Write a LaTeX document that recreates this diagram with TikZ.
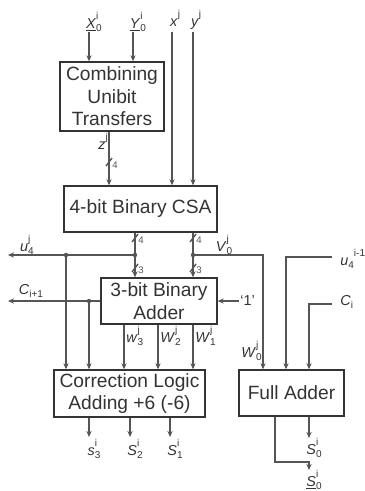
\documentclass[tikz,border=0pt]{standalone}
\usepackage{fontspec}
\setmainfont{Liberation Sans}
\usetikzlibrary{arrows.meta}
\definecolor{ln}{HTML}{555555}
\definecolor{tx}{HTML}{333333}
\newcommand\ssz{\fontsize{5}{5.5}\selectfont}
\newcommand\lbl[3]{\textit{#1}\makebox[0pt][l]{\raisebox{1.15ex}{\ssz #2}}\raisebox{-0.45ex}{\ssz #3}}
\newcommand\ul[1]{\setbox0\hbox{\textit{#1}}\rlap{\rule[-1.3pt]{\wd0}{0.6pt}}\box0}
\begin{document}
\begin{tikzpicture}[x=0.5pt,y=-0.5pt,
  box/.style={draw=tx, line width=0.7pt, inner sep=0pt, align=center, font=\fontsize{9.6}{11.3}\selectfont, text=tx},
  wire/.style={draw=ln, line width=0.7pt},
  arr/.style={wire, -{Stealth[length=3pt,width=2.6pt]}},
  lab/.style={inner sep=0pt, text=tx, font=\fontsize{7.2}{8}\selectfont},
  dig/.style={inner sep=0pt, text=ln, font=\fontsize{4.8}{5}\selectfont},
  dot/.style={circle, fill=ln, inner sep=0pt, minimum size=2.2pt},
  ]
\useasboundingbox (0,0) rectangle (364,491);

% boxes
\node[box, minimum width=52pt, minimum height=34.5pt] (comb) at (112,96.5) {Combining\\Unibit\\Transfers};
\node[box, minimum width=76.5pt, minimum height=23pt] (csa) at (140.5,209) {4-bit Binary CSA};
\node[box, minimum width=58pt, minimum height=23pt] (add3) at (159,301) {3-bit Binary\\Adder};
\node[box, minimum width=75.5pt, minimum height=23.5pt] (corr) at (129.5,393.5) {Correction Logic\\Adding +6 (-6)};
\node[box, minimum width=52.5pt, minimum height=23pt] (fa) at (291.5,393) {Full Adder};

% top inputs
\node[lab] (Xl) at (94,22) {\ul{X}\makebox[0pt][l]{\raisebox{1.15ex}{\ssz i}}\raisebox{-0.45ex}{\ssz 0}};
\node[lab] (Yl) at (138,22) {\ul{Y}\makebox[0pt][l]{\raisebox{1.15ex}{\ssz i}}\raisebox{-0.45ex}{\ssz 0}};
\node[lab] (xl) at (174,20) {\lbl{x}{j}{}};
\node[lab] (yl) at (195,20) {\lbl{y}{j}{}};
\coordinate (Xt) at (89,32);
\coordinate (Yt) at (133,32);
\coordinate (xt) at (172,32);
\coordinate (yt) at (193,32);
\draw[arr] (Xt) -- (Xt |- comb.north);
\draw[arr] (Yt) -- (Yt |- comb.north);
\draw[arr] (xt) -- (xt |- csa.north);
\draw[arr] (yt) -- (yt |- csa.north);

% z
\coordinate (zt) at (109,162);
\draw[arr] (comb.south -| zt) -- (zt |- csa.north);
\node[lab] (zl) at (102,143) {\lbl{z}{j}{}};
\draw[wire] ([shift={(-3,4)}]zt) -- ([shift={(3,-4)}]zt);
\node[dig] at ([shift={(6,3)}]zt) {4};

% CSA outputs
\coordinate (ua) at (135,255);
\coordinate (va) at (193,255);
\draw[arr] (ua |- csa.south) -- (ua |- add3.north);
\draw[arr] (va |- csa.south) -- (va |- add3.north);
\foreach \c in {ua,va} {
  \coordinate (s4) at ([shift={(0,-17)}]\c);
  \draw[wire] ([shift={(-3,4)}]s4) -- ([shift={(3,-4)}]s4);
  \node[dig] at ([shift={(6,2)}]s4) {4};
  \coordinate (s3) at ([shift={(0,13)}]\c);
  \draw[wire] ([shift={(-3,4)}]s3) -- ([shift={(3,-4)}]s3);
  \node[dig] at ([shift={(6,2)}]s3) {3};
}
\node[dot] (du) at (ua) {};
\node[dot] (dv) at (va) {};
\coordinate (uend) at (8,255);
\draw[arr] (du.center) -- (uend);
\node[lab] (ul) at (27,245) {\lbl{u}{j}{4}};
\node[dot] (du2) at (66,255) {};
\draw[arr] (du2.center) -- (du2 |- corr.north);
\coordinate (vc) at (263,255);
\draw[arr] (dv.center) -- (vc) -- (vc |- fa.north);
\node[lab] (vl) at (224,245) {\lbl{V}{j}{0}};

% carry out
\coordinate (cend) at (8,301);
\draw[arr] (add3.west) -- (cend);
\node[lab] (cl) at (31,291) {\textit{C}\raisebox{-0.45ex}{\ssz i+1}};
\node[dot] (dc) at (89,301) {};
\draw[arr] (dc.center) -- (dc |- corr.north);
\coordinate (one) at (239,301);
\draw[arr] (one) -- (add3.east);
\node[lab, anchor=west] (onel) at (240,301) {‘1’};

% 3-bit adder outputs
\coordinate (w3) at (124,336);
\coordinate (w2) at (158,336);
\coordinate (w1) at (193,336);
\draw[arr] (add3.south -| w3) -- (w3 |- corr.north);
\draw[arr] (add3.south -| w2) -- (w2 |- corr.north);
\draw[arr] (add3.south -| w1) -- (w1 |- corr.north);
\node[lab, anchor=west] (w3l) at ([xshift=1]w3) {\lbl{w}{j}{3}};
\node[lab, anchor=west] (w2l) at ([xshift=1]w2) {\lbl{W}{j}{2}};
\node[lab, anchor=west] (w1l) at ([xshift=1]w1) {\lbl{W}{j}{1}};
\node[lab, anchor=east] (w0l) at (262,351) {\lbl{W}{j}{0}};

% full adder inputs
\coordinate (ut) at (332,257);
\coordinate (uc) at (286,257);
\draw[arr] (ut) -- (uc) -- (uc |- fa.north);
\node[lab, anchor=west] (uil) at (340,259) {\textit{u}\raisebox{-0.45ex}{\ssz 4}\raisebox{1.2ex}{\ssz i-1}};
\coordinate (ct) at (332,304);
\coordinate (cc) at (309,304);
\draw[arr] (ct) -- (cc) -- (cc |- fa.north);
\node[lab, anchor=west] (cil) at (340,302) {\textit{C}\raisebox{-0.45ex}{\ssz i}};

% correction outputs
\coordinate (s3o) at (89,437);
\coordinate (s2o) at (130,437);
\coordinate (s1o) at (170,437);
\draw[arr] (corr.south -| s3o) -- (s3o);
\draw[arr] (corr.south -| s2o) -- (s2o);
\draw[arr] (corr.south -| s1o) -- (s1o);
\node[lab] (s3l) at (94,449) {\lbl{s}{i}{3}};
\node[lab] (s2l) at (135,449) {\lbl{S}{i}{2}};
\node[lab] (s1l) at (175,449) {\lbl{S}{i}{1}};

% full adder outputs
\coordinate (s0o) at (309,438);
\draw[arr] (fa.south -| s0o) -- (s0o);
\node[lab] (s0l) at (314,448) {\lbl{S}{i}{0}};
\coordinate (b1) at (275,462);
\coordinate (b2) at (309,462);
\coordinate (b3) at (309,470);
\draw[arr] (fa.south -| b1) -- (b1) -- (b2) -- (b3);
\node[lab] (S0l) at (314,480) {\ul{S}\makebox[0pt][l]{\raisebox{1.15ex}{\ssz i}}\raisebox{-0.45ex}{\ssz 0}};
\end{tikzpicture}
\end{document}
